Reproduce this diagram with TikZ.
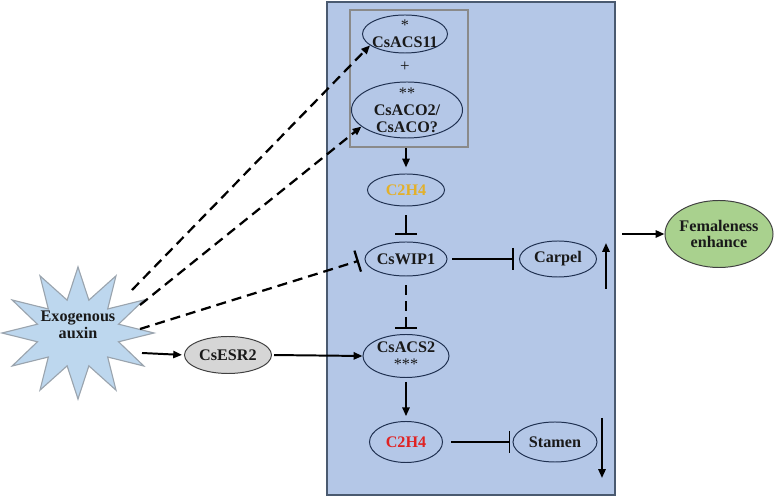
\documentclass[tikz,border=0pt]{standalone}
\usepackage{fontspec}
\setmainfont{Liberation Serif}
\usetikzlibrary{arrows.meta,shapes.geometric}

\definecolor{panelblue}{HTML}{B4C7E7}
\definecolor{panelline}{HTML}{4A5A70}
\definecolor{boxgray}{HTML}{8A8A8A}
\definecolor{geneline}{HTML}{1F3050}
\definecolor{starblue}{HTML}{BDD7EE}
\definecolor{stargray}{HTML}{9AA4AE}
\definecolor{esrgray}{HTML}{D6D6D6}
\definecolor{femgreen}{HTML}{A9D18E}
\definecolor{ethyellow}{HTML}{E3B02A}
\definecolor{ethred}{HTML}{E02222}

\begin{document}
\begin{tikzpicture}[x=0.025cm,y=-0.025cm,font=\bfseries\fontsize{11.5}{12}\selectfont,
every node/.style={align=center,text=black!90},
gene/.style={ellipse,draw=geneline,line width=0.7pt,inner sep=-2pt},
act/.style={line width=1.4pt,-{Triangle[length=0.22cm,width=0.18cm]}},
inh/.style={line width=1.4pt,-{Bar[width=0.55cm]}},
dash line/.style={line width=1.6pt,dash pattern=on 0.25cm off 0.15cm}
]
\useasboundingbox (0,0) rectangle (778,497);

% panel
\draw[fill=panelblue,draw=panelline,line width=2pt] (327,2) rectangle (615,495);

% exogenous auxin star
\begin{scope}[shift={(78,333)}]
\draw[fill=starblue,draw=stargray,line width=0.8pt] (0:1.9cm and 1.65cm)
  \foreach \a in {30,60,...,330} { -- (\a-15:1.05cm and 0.85cm) -- (\a:1.9cm and 1.65cm)}
  -- (-15:1.05cm and 0.85cm) -- cycle;
\end{scope}
\node (auxin) at (78,325) {Exogenous\\auxin};
\coordinate (auxA) at (132,290);
\coordinate (auxB) at (140,305);
\coordinate (auxC) at (140,329);
\coordinate (auxD) at (142,353);

% upper box
\node[draw=boxgray,line width=1.8pt,minimum width=2.95cm,minimum height=3.425cm] (acsbox) at (409,78.5) {};
\node[gene,minimum width=2.125cm,minimum height=0.95cm] (acs11) at (405,34) {{\normalfont *}\\CsACS11};
\node[font=\normalfont\fontsize{12}{12}\selectfont] (plus) at (405,67) {+};
\node[gene,minimum width=2.775cm,minimum height=1.4cm] (aco) at (407,110) {{\normalfont **}\\CsACO2/\\CsACO?};

% central column
\node[gene,minimum width=1.925cm,minimum height=0.8cm,text=ethyellow] (ethy) at (406,190) {C2H4};
\node[gene,minimum width=2.05cm,minimum height=0.85cm] (wip) at (406,259) {CsWIP1};
\node[gene,minimum width=1.925cm,minimum height=0.9cm] (carpel) at (558,259) {Carpel};
\node[gene,minimum width=2.15cm,minimum height=1.075cm] (acs2) at (406,356) {CsACS2\\{\normalfont ***}};
\node[gene,minimum width=1.825cm,minimum height=1.025cm,text=ethred] (ethr) at (406,442) {C2H4};
\node[gene,minimum width=2.1cm,minimum height=1cm] (stamen) at (555,442) {Stamen};

\node[gene,fill=esrgray,draw=black!75,minimum width=2.175cm,minimum height=0.925cm] (esr) at (228,355) {CsESR2};
\node[gene,fill=femgreen,draw=black!75,minimum width=2.7cm,minimum height=1.675cm] (femal) at (719,234) {Femaleness\\enhance};

\coordinate (upS) at (606,289);
\coordinate (upE) at (606,243);
\coordinate (downS) at (602,418);
\coordinate (downE) at (602,478);
\coordinate (panelout) at (622,234);

% connectors
\draw[act,dash line] (auxA) -- (acs11.198);
\draw[act,dash line] (auxB) -- (aco.200);
\draw[inh,dash line,shorten >=0.15cm] (auxC) -- (wip.west);
\draw[act,shorten >=0.05cm] (auxD) -- (esr.west);
\draw[act,shorten <=0.05cm] (esr.east) -- (acs2.west);

\draw[act,shorten >=0.15cm] (ethy.north |- acsbox.south) -- (ethy.north);
\draw[inh,shorten <=0.22cm,shorten >=0.17cm] (ethy.south) -- (wip.north);
\draw[inh,shorten <=0.12cm,shorten >=0.12cm] (wip.east) -- (carpel.west);
\draw[inh,dash line,shorten <=0.22cm,shorten >=0.12cm] (wip.south) -- (acs2.north);
\draw[act,shorten <=0.1cm,shorten >=0.12cm] (acs2.south) -- (ethr.north);
\draw[inh,shorten <=0.2cm,shorten >=0.05cm] (ethr.east) -- (stamen.west);

\draw[act] (upS) -- (upE);
\draw[act] (downS) -- (downE);
\draw[act] (panelout) -- (femal.west);
\end{tikzpicture}
\end{document}
